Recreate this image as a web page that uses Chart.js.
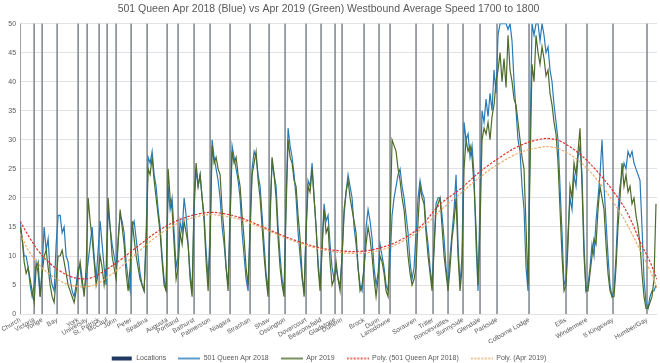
<!DOCTYPE html>
<html><head><meta charset="utf-8">
<script src="https://cdn.jsdelivr.net/npm/chart.js@4/dist/chart.umd.min.js"></script>
<style>html,body{margin:0;padding:0;background:#fff}#wrap{width:660px;height:363px}</style>
</head><body><div id="wrap"><canvas id="c"></canvas></div>
<script>
const locNames = ["Church","Victoria","Yonge","Bay","York","University","St. Patrick","McCaul","John","Peter","Spadina","Augusta","Portland","Bathurst","Palmerston","Niagara","Strachan","Shaw","Ossington","Dovercourt","Beaconsfield","Gladstone","Dufferin","Brock","Dunn","Lansdowne","Sorauren","Triller","Roncesvalles","Sunnyside","Glendale","Parkside","Colborne Lodge","Ellis","Windermere","S Kingsway","Humber/Gay"];
const locPos = [0,14,22,37,58,67,79,87,96,111,127,147,158,174,190,210,230,249,265,286,301,315,322,344,359,370,396,413,428,443,460,477,509,546,567,593,627];
const sampleStep = 2;
const blue2018 = [
16,13,10,10,8,5,3,5,9,7,
3,8,15,11,13,7,5,4,12,17,
17,14,15,10,9,6,4,3,5,8,
8,5,4,6,9,12,15,10,6,11,
16,12,8,5,18,15,12,10,8,13,
17,16,14,9,6,4,15,16,13,10,
7,5,4,14,27,26,28,24,22,18,
15,10,6,4,22,18,20,14,8,10,
16,14,20,17,12,7,4,18,25,22,
24,20,17,11,6,14,30,27,25,23,
20,15,12,8,5,18,29,27,25,23,
20,14,10,6,4,16,25,28,27,24,
22,17,12,7,4,18,26,24,22,15,
10,6,4,20,32,29,27,24,20,14,
10,6,4,15,23,22,26,20,15,9,
5,12,19,16,17,12,8,6,8,6,
5,10,17,21,24,22,20,15,12,8,
5,4,8,15,18,16,13,8,5,7,
12,10,8,5,4,9,17,20,22,24,
25,22,20,17,14,9,6,8,14,20,
23,21,20,15,12,8,5,12,19,20,
20,17,13,8,5,10,14,18,24,12,
5,10,33,30,31,27,29,24,12,4,
20,35,33,37,34,38,35,42,38,48,
50,50,50,50,49,50,47,40,35,30,
28,22,18,8,4,30,50,48,50,50,
47,50,48,45,46,42,40,36,33,30,
22,14,5,6,14,20,18,24,22,27,
29,24,12,4,5,8,12,10,16,20,
24,30,22,16,10,5,3,4,10,18,
22,24,26,25,28,27,28,26,25,24,
23,15,6,2,1,3,4,4,5];
const green2019 = [
15,13,9,7,8,6,4,2,8,9,
3,7,10,11,8,5,3,2,6,10,
10,11,9,7,5,4,3,2,4,7,
9,6,3,8,20,16,13,9,5,7,
10,8,5,8,20,15,10,8,6,12,
18,15,12,7,4,8,16,13,10,8,
6,5,4,12,25,24,27,23,20,17,
14,9,5,4,25,20,18,12,6,8,
14,12,16,14,12,6,3,20,26,22,
24,20,16,9,4,12,29,26,27,25,
24,18,14,8,4,16,28,26,27,24,
22,17,13,8,5,14,24,26,28,23,
20,15,10,6,3,16,27,24,20,13,
8,5,3,18,30,27,26,23,22,17,
13,7,3,14,22,21,25,20,15,8,
4,11,18,14,15,9,5,6,9,6,
4,10,18,21,23,20,18,16,14,8,
4,5,8,12,15,13,10,6,3,6,
10,9,7,4,3,15,30,29,28,25,
23,20,18,14,10,7,5,6,8,16,
22,20,19,14,10,7,4,11,18,19,
20,15,10,7,4,8,13,16,20,10,
4,8,25,30,28,29,27,22,15,5,
15,30,32,31,33,30,34,36,40,42,
45,40,44,39,48,42,40,37,36,33,
30,27,25,15,5,25,43,40,48,45,
43,46,44,41,42,38,36,33,31,26,
18,10,4,5,12,22,20,26,24,28,
32,22,10,4,4,7,10,13,12,18,
22,20,18,12,7,4,3,3,8,15,
20,26,22,24,21,22,19,20,17,15,
12,7,3,1,1,2,3,6,19];
const trendX = [0,10,20,30,40,50,60,70,80,100,120,140,160,180,190,200,220,240,260,280,300,320,340,360,380,400,420,440,460,480,500,520,530,540,560,580,600,610,620,630,637];
const poly2018 = [16,13,10.5,8.7,7.4,6.5,6.1,6.2,7,9.3,12,14.5,16.3,17.3,17.5,17.4,16.6,15.2,13.7,12.4,11.4,10.9,10.8,11.4,12.7,15,18.9,21.5,24.5,27,29,30.1,30.2,29.8,27.5,24,19.5,16.5,12.5,9,6];
const poly2019 = [13.8,10.5,8.3,6.8,5.7,5,4.7,4.8,5.5,8,11,13.8,15.8,16.9,17.1,17,16.3,15,13.5,12.2,11.2,10.6,10.5,11,12.3,14.5,17.8,20.7,23.6,26,27.8,28.7,28.8,28.4,26.2,22.5,17.5,14.5,11,7.5,4.5];
const yMin = 0, yMax = 50, yStep = 5;

const FAM = "'Liberation Sans', Arial, sans-serif";
function swatch(kind, color, dash) {
  const c = document.createElement('canvas'); c.width = 22; c.height = 6;
  const g = c.getContext('2d');
  if (kind === 'bar') { g.fillStyle = color; g.fillRect(1, 1, 20, 4); }
  else { g.strokeStyle = color; g.lineWidth = 1.5; g.setLineDash(dash || []); g.beginPath(); g.moveTo(0, 3); g.lineTo(22, 3); g.stroke(); }
  return c;
}
const swatches = [
  swatch('bar', '#1f3864'),
  swatch('line', '#2a7ab6'),
  swatch('line', '#4d6b2b'),
  swatch('line', '#e0302a', [2, 1.5]),
  swatch('line', '#f0a868', [2, 1.5])
];
const blueData = blue2018.map((v, i) => ({x: i * sampleStep, y: v}));
const greenData = green2019.map((v, i) => ({x: i * sampleStep, y: v}));
new Chart(document.getElementById('c'), {
  type: 'line',
  data: {
    datasets: [
      {type: 'bar', label: 'Locations', data: locPos.map(v => ({x: v, y: yMax})), backgroundColor: '#8a9096', barThickness: 1, order: 5},
      {label: '501 Queen Apr 2018', data: blueData, borderColor: '#2a7ab6', borderWidth: 1.2, pointRadius: 0, tension: 0, order: 4},
      {label: 'Apr 2019', data: greenData, borderColor: '#4d6b2b', borderWidth: 1.2, pointRadius: 0, tension: 0, order: 3},
      {label: 'Poly. (501 Queen Apr 2018)', data: trendX.map((x, i) => ({x, y: poly2018[i]})), borderColor: '#e0302a', borderDash: [2.5, 1.5], borderWidth: 1.2, pointRadius: 0, tension: 0.4, order: 2},
      {label: 'Poly. (Apr 2019)', data: trendX.map((x, i) => ({x, y: poly2019[i]})), borderColor: '#f0a868', borderDash: [2.5, 1.5], borderWidth: 1.2, pointRadius: 0, tension: 0.4, order: 1}
    ]
  },
  options: {
    responsive: true, maintainAspectRatio: false, animation: false,
    layout: {padding: {left: 0, right: 3, top: 0, bottom: -9}},
    plugins: {
      tooltip: {enabled: false},
      title: {display: true, text: '501 Queen Apr 2018 (Blue) vs Apr 2019 (Green) Westbound Average Speed 1700 to 1800', color: '#595959', font: {family: FAM, size: 10.5, weight: 'normal'}, padding: {top: 3, bottom: 8}},
      legend: {position: 'bottom', labels: {usePointStyle: true, pointStyleWidth: 22, padding: 12, color: '#595959', font: {family: FAM, size: 7},
        generateLabels: (chart) => chart.data.datasets.map((ds, i) => ({text: ds.label, pointStyle: swatches[i], fillStyle: 'transparent', strokeStyle: 'transparent', lineWidth: 0, hidden: false, datasetIndex: i, fontColor: '#595959'}))}}
    },
    scales: {
      x: {type: 'linear', min: 0, max: 637, offset: false,
        afterBuildTicks: s => { s.ticks = locPos.map(v => ({value: v})); },
        afterFit: s => { s.height = s.height - 5; },
        ticks: {autoSkip: false, minRotation: 30, maxRotation: 30, padding: 2, color: '#595959', font: {family: FAM, size: 6.5}, callback: v => locNames[locPos.indexOf(v)]},
        grid: {display: false, drawTicks: false}, border: {display: false}},
      y: {min: yMin, max: yMax, ticks: {stepSize: yStep, padding: 4, color: '#595959', font: {family: FAM, size: 7}},
        grid: {color: '#e2e2e2', drawTicks: false}, border: {display: false},
        afterFit: s => { s.width = 20; }}
    }
  }
});
</script></body></html>
